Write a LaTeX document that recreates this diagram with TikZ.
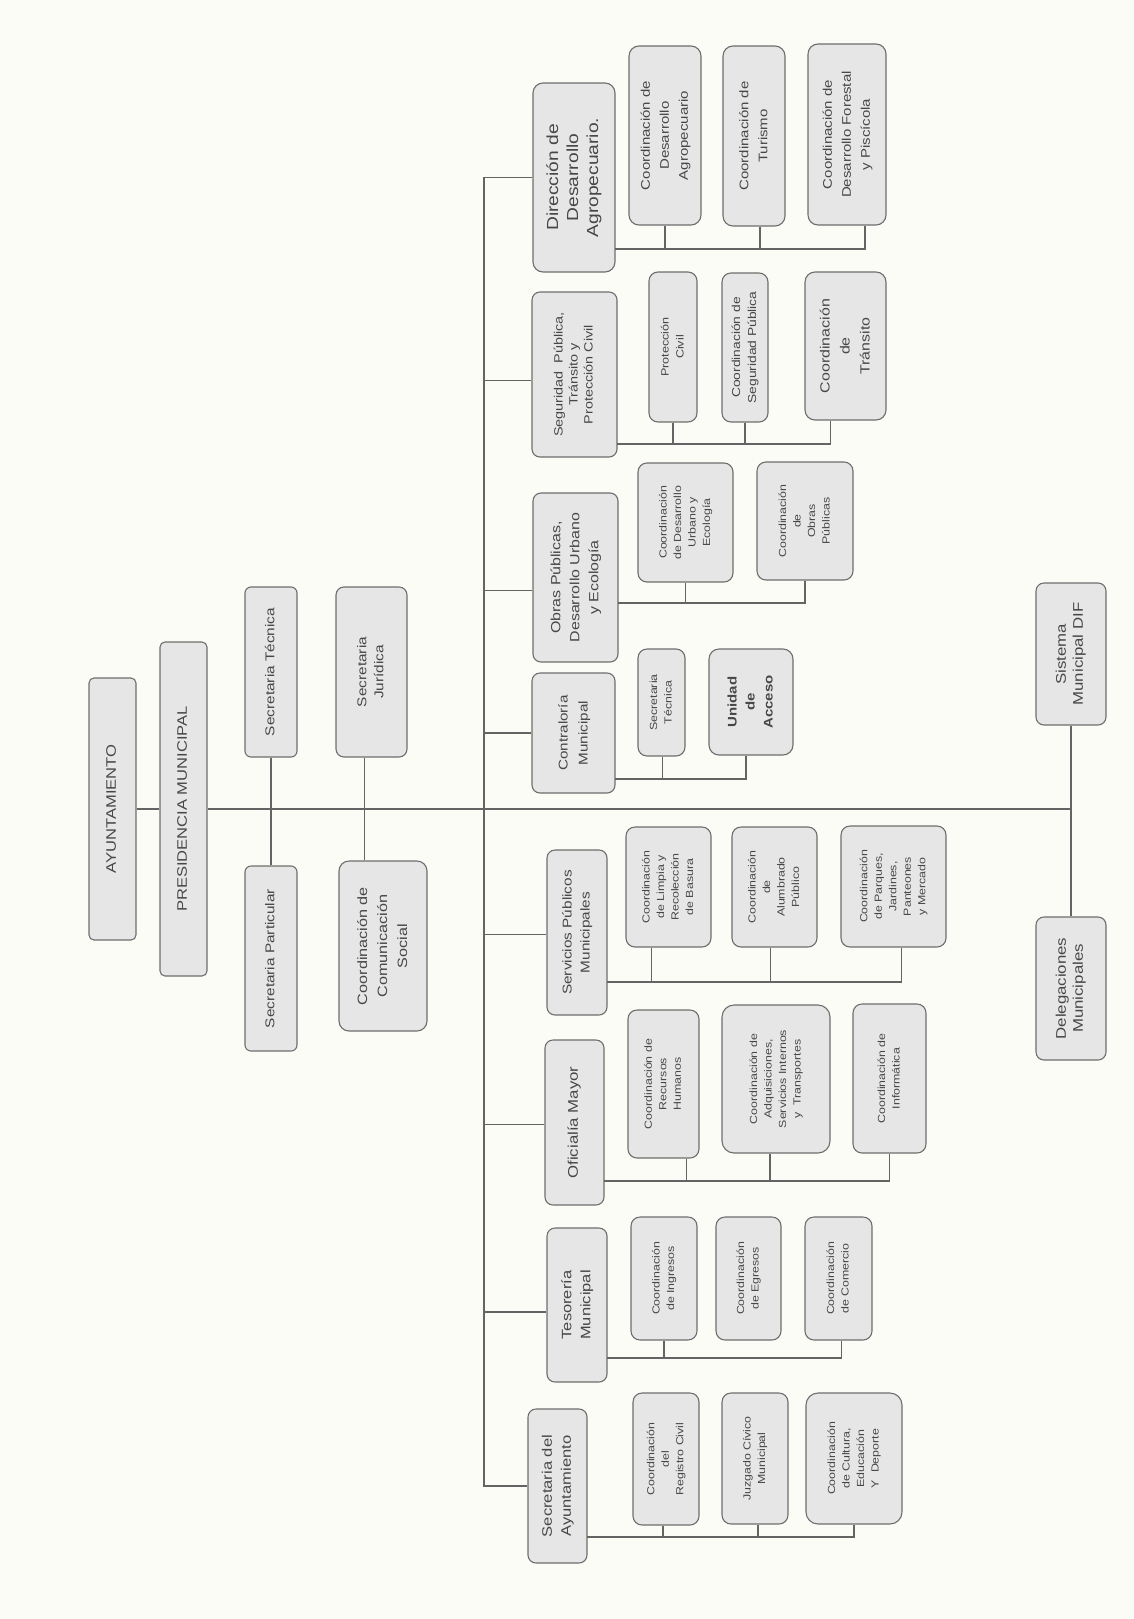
\documentclass[tikz,border=0pt]{standalone}
\usepackage{fontspec}
\setmainfont[FakeStretch=1.2]{Liberation Sans}
\usepackage{graphicx}
\usepackage{xcolor}
\usetikzlibrary{positioning}

\definecolor{paper}{HTML}{FCFCF7}
\definecolor{boxfill}{HTML}{E6E6E6}
\definecolor{boxline}{HTML}{6E6E6E}
\definecolor{wirecol}{HTML}{646464}
\definecolor{ink}{HTML}{474747}

% rotated multi-line label
\newcommand{\vtxt}[1]{\rotatebox{90}{\begin{tabular}{@{}c@{}}#1\end{tabular}}}

\begin{document}
\begin{tikzpicture}[
	x=1pt, y=-1pt,
	box/.style={
		rectangle,
		draw=boxline,
		fill=boxfill,
		line width=1.1pt,
		rounded corners=5pt,
		inner sep=0pt,
		text=ink
	},
	dims/.style 2 args={minimum width=#1, minimum height=#2},
	top_box/.style={box, font=\fontsize{13.8}{17}\selectfont},
	sec_box/.style={box, rounded corners=6pt, font=\fontsize{12.8}{17}\selectfont},
	head_box/.style={box, rounded corners=8pt, font=\fontsize{13.3}{19}\selectfont},
	coord_box/.style={box, rounded corners=10pt, font=\fontsize{12.5}{19}\selectfont},
	small_box/.style={box, rounded corners=9pt, font=\fontsize{10.3}{14.5}\selectfont},
	wire/.style={draw=wirecol, line width=1.2pt}
	]
	\fill[paper] (0,0) rectangle (1134,1619);
	
	% top of the chart
	\node (ayunt) [top_box, dims={47}{262}] at (112.5,809) {\vtxt{AYUNTAMIENTO}};
	\node (presid) [top_box, dims={47}{334}] at (183.5,809) {\vtxt{PRESIDENCIA MUNICIPAL}};
	\node (sectec) [sec_box, dims={52}{170}] at (271,672) {\vtxt{Secretaria Técnica}};
	\node (secpart) [sec_box, dims={52}{185}] at (271,958.5) {\vtxt{Secretaria Particular}};
	\node (secjur) [sec_box, rounded corners=8pt, dims={71}{170}] at (371.5,672) {\vtxt{Secretaria\\Jurídica}};
	\node (comsoc) [sec_box, rounded corners=10pt, font=\fontsize{13.5}{20}\selectfont, dims={88}{170}] at (383,946) {\vtxt{Coordinación de\\Comunicación\\Social}};
	\node (dif) [head_box, font=\fontsize{14}{17}\selectfont, dims={70}{142}] at (1071,654) {\vtxt{Sistema\\Municipal DIF}};
	\node (deleg) [head_box, font=\fontsize{14}{17}\selectfont, dims={70}{143}] at (1071,988.5) {\vtxt{Delegaciones\\Municipales}};
	
	\coordinate (spine) at (484,809);
	\draw[wire] (ayunt) -- (presid);
	\draw[wire] (presid) -- (presid -| dif);
	\draw[wire] (dif) -- (deleg);
	\draw[wire] (sectec) -- (secpart);
	\path ([xshift=-7]secjur.south) coordinate (jur_foot);
	\draw[wire] (jur_foot) -- (jur_foot |- comsoc.north);
	
	% Direccion de Desarrollo Agropecuario
	\node (dir) [head_box, rounded corners=10pt, font=\fontsize{16}{20}\selectfont, dims={82}{189}] at (574,177.5) {\vtxt{Dirección de\\Desarrollo\\Agropecuario.}};
	\node (dca) [coord_box, dims={72}{179}] at (665,135.5) {\vtxt{Coordinación de\\Desarrollo\\Agropecuario}};
	\node (tur) [coord_box, dims={62}{180}] at (754,136) {\vtxt{Coordinación de\\Turismo}};
	\node (dfp) [coord_box, dims={78}{181}] at (847,134.5) {\vtxt{Coordinación de\\Desarrollo Forestal\\y Piscícola}};
	\coordinate (dir_bus) at (615,249);
	\draw[wire] (dca.south) |- (dir_bus);
	\draw[wire] ([xshift=6]tur.south) |- (dir_bus);
	\draw[wire] ([xshift=18]dfp.south) |- (dir_bus);
	
	% Seguridad Publica
	\node (seg) [head_box, font=\fontsize{12}{15}\selectfont, dims={85}{165}] at (574.5,374.5) {\vtxt{Seguridad~ Pública,\\Tránsito y\\Protección Civil}};
	\node (pc) [small_box, font=\fontsize{10.5}{15}\selectfont, dims={48}{150}] at (673,347) {\vtxt{Protección\\Civil}};
	\node (csp) [small_box, font=\fontsize{11.5}{16}\selectfont, dims={46}{149}] at (745,347.5) {\vtxt{Coordinación de\\Seguridad Pública}};
	\node (ctran) [coord_box, font=\fontsize{13.3}{20}\selectfont, dims={81}{148}] at (845.5,346) {\vtxt{Coordinación\\de\\Tránsito}};
	\coordinate (seg_bus) at (617,444);
	\draw[wire] (pc.south) |- (seg_bus);
	\draw[wire] (csp.south) |- (seg_bus);
	\draw[wire] ([xshift=-15]ctran.south) |- (seg_bus);
	
	% Obras Publicas
	\node (obras) [head_box, dims={85}{169}] at (575.5,577.5) {\vtxt{Obras Públicas,\\Desarrollo Urbano\\y Ecología}};
	\node (cdue) [small_box, dims={95}{119}] at (685.5,522.5) {\vtxt{Coordinación\\de Desarrollo\\Urbano y\\Ecología}};
	\node (cop) [small_box, dims={96}{118}] at (805,521) {\vtxt{Coordinación\\de\\Obras\\Públicas}};
	\coordinate (obras_bus) at (618,603);
	\draw[wire] (cdue.south) |- (obras_bus);
	\draw[wire] (cop.south) |- (obras_bus);
	
	% Contraloria
	\node (contra) [head_box, font=\fontsize{12.7}{20}\selectfont, dims={83}{120}] at (573.5,733) {\vtxt{Contraloría\\Municipal}};
	\node (stec) [small_box, dims={47}{107}] at (661.5,702.5) {\vtxt{Secretaria\\Técnica}};
	\node (uacc) [coord_box, font=\bfseries\fontsize{12.5}{18}\selectfont, dims={84}{106}] at (751,702) {\vtxt{Unidad\\de\\Acceso}};
	\coordinate (contra_bus) at (615,779);
	\draw[wire] ([xshift=1]stec.south) |- (contra_bus);
	\draw[wire] ([xshift=-5]uacc.south) |- (contra_bus);
	
	% Servicios Publicos
	\node (serv) [head_box, font=\fontsize{12.8}{18}\selectfont, dims={60}{165}] at (577,932.5) {\vtxt{Servicios Públicos\\Municipales}};
	\node (clrb) [small_box, dims={85}{120}] at (668.5,887) {\vtxt{Coordinación\\de Limpia y\\Recolección\\de Basura}};
	\node (cap) [small_box, dims={85}{120}] at (774.5,887) {\vtxt{Coordinación\\de\\Alumbrado\\Público}};
	\node (cpjpm) [small_box, dims={105}{121}] at (893.5,886.5) {\vtxt{Coordinación\\de Parques,\\Jardines,\\Panteones\\y Mercado}};
	\coordinate (serv_bus) at (607,982);
	\draw[wire] ([xshift=-17]clrb.south) |- (serv_bus);
	\draw[wire] ([xshift=-4]cap.south) |- (serv_bus);
	\draw[wire] ([xshift=8]cpjpm.south) |- (serv_bus);
	
	% Oficialia Mayor
	\node (ofi) [head_box, font=\fontsize{14}{17}\selectfont, dims={59}{165}] at (574.5,1122.5) {\vtxt{Oficialía Mayor}};
	\node (crh) [small_box, dims={71}{148}] at (663.5,1084) {\vtxt{Coordinación de\\Recursos\\Humanos}};
	\node (cadq) [small_box, rounded corners=12pt, dims={108}{148}] at (776,1079) {\vtxt{Coordinación de\\Adquisiciones,\\Servicios Internos\\y~ Transportes}};
	\node (cinf) [small_box, dims={73}{149}] at (889.5,1078.5) {\vtxt{Coordinación de\\Informática}};
	\coordinate (ofi_bus) at (604,1181);
	\draw[wire] ([xshift=23]crh.south) |- (ofi_bus);
	\draw[wire] ([xshift=-6]cadq.south) |- (ofi_bus);
	\draw[wire] (cinf.south) |- (ofi_bus);
	
	% Tesoreria
	\node (teso) [head_box, font=\fontsize{13.7}{19}\selectfont, dims={60}{154}] at (577,1305) {\vtxt{Tesorería\\Municipal}};
	\node (cing) [small_box, dims={66}{123}] at (664,1278.5) {\vtxt{Coordinación\\de Ingresos}};
	\node (cegr) [small_box, dims={65}{123}] at (748.5,1278.5) {\vtxt{Coordinación\\de Egresos}};
	\node (ccom) [small_box, dims={67}{123}] at (838.5,1278.5) {\vtxt{Coordinación\\de Comercio}};
	\coordinate (teso_bus) at (607,1358);
	\draw[wire] (cing.south) |- (teso_bus);
	\draw[wire] ([xshift=3]ccom.south) |- (teso_bus);
	
	% Secretaria del Ayuntamiento
	\node (secayu) [head_box, font=\fontsize{13.8}{19}\selectfont, dims={59}{154}] at (557.5,1486) {\vtxt{Secretaria del\\Ayuntamiento}};
	\node (crc) [small_box, dims={66}{132}] at (666,1459) {\vtxt{Coordinación\\del\\Registro Civil}};
	\node (jcm) [small_box, dims={66}{131}] at (755,1458.5) {\vtxt{Juzgado Cívico\\Municipal}};
	\node (ccud) [small_box, rounded corners=12pt, dims={96}{131}] at (854,1458.5) {\vtxt{Coordinación\\de Cultura,\\Educación\\Y~ Deporte}};
	\coordinate (secayu_bus) at (587,1537);
	\draw[wire] ([xshift=-3]crc.south) |- (secayu_bus);
	\draw[wire] ([xshift=3]jcm.south) |- (secayu_bus);
	\draw[wire] (ccud.south) |- (secayu_bus);
	
	% spine and branches
	\draw[wire] (dir.west) -| (spine |- secayu.west) -- (secayu.west);
	\path ([yshift=-6]seg.west) coordinate (seg_tap);
	\path ([yshift=-13]obras.west) coordinate (obras_tap);
	\path ([yshift=-2]serv.west) coordinate (serv_tap);
	\path ([yshift=-2]ofi.west) coordinate (ofi_tap);
	\path ([yshift=-7]teso.west) coordinate (teso_tap);
	\draw[wire] (seg_tap) -- (seg_tap -| spine);
	\draw[wire] (obras_tap) -- (obras_tap -| spine);
	\draw[wire] (contra.west) -- (contra.west -| spine);
	\draw[wire] (serv_tap) -- (serv_tap -| spine);
	\draw[wire] (ofi_tap) -- (ofi_tap -| spine);
	\draw[wire] (teso_tap) -- (teso_tap -| spine);
	
\end{tikzpicture}
\end{document}
